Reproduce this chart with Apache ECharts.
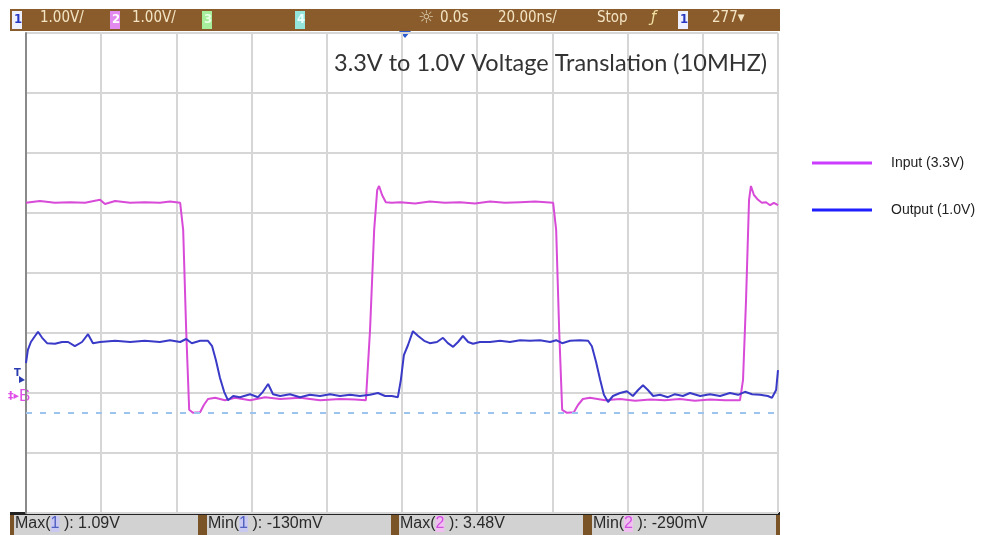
<!DOCTYPE html>
<html>
<head>
<meta charset="utf-8">
<script src="https://cdn.jsdelivr.net/npm/echarts@6/dist/echarts.min.js"></script>
<style>
  html, body { margin: 0; padding: 0; background: #fff; }
  #chart { width: 1005px; height: 535px; }
</style>
</head>
<body>
<div id="chart"></div>
<script>
// scope capture: time in ns (20 ns/div), amplitude in V (1 V/div)
const timeTicks = [-100, -80, -60, -40, -20, 0, 20, 40, 60, 80, 100]
const voltTicks = [-2, -1, 0, 1, 2, 3, 4, 5, 6]
const groundRef = -0.33

// channel 2 - input (3.3V)
const inputT = [-100, -96.3, -92.3, -88.3, -84.3, -80.3, -79, -76.3, -72.3, -68.4, -64.4, -61.7, -59,
  -58.2, -57.4, -56.6, -55.6, -53.7, -52.7, -51.6, -49.7, -47.1, -44.4, -40.4, -36.4, -32.4, -27.1,
  -21.8, -16.5, -12.5, -9.6, -8.5, -7.4, -6.6, -6.1, -5.3, -4.3, -2.7, -0.5, 3.5, 7.4, 11.4, 15.4,
  19.4, 23.4, 27.4, 31.4, 35.4, 40.2, 41.0, 41.8, 42.6, 43.9, 45.7, 46.8, 48.1, 50, 54, 58, 62, 66,
  69.9, 73.9, 77.9, 81.9, 85.9, 89.9, 90.7, 91.5, 92.3, 92.8, 93.6, 94.7, 95.7, 96.8, 97.9, 98.9, 100]
const inputV = [3.17, 3.2, 3.17, 3.18, 3.17, 3.22, 3.15, 3.2, 3.17, 3.18, 3.17, 3.19, 3.17,
  2.72, 1.05, -0.28, -0.33, -0.32, -0.2, -0.1, -0.08, -0.12, -0.08, -0.12, -0.07, -0.1, -0.08,
  -0.12, -0.1, -0.11, -0.12, 1.05, 2.72, 3.38, 3.45, 3.3, 3.18, 3.17, 3.18, 3.16, 3.19, 3.17, 3.18,
  3.16, 3.19, 3.17, 3.18, 3.19, 3.17, 2.72, 1.05, -0.28, -0.33, -0.32, -0.2, -0.1, -0.08, -0.12,
  -0.1, -0.13, -0.11, -0.12, -0.1, -0.13, -0.11, -0.12, -0.12, 0.22, 1.55, 3.22, 3.45, 3.3, 3.22,
  3.17, 3.18, 3.13, 3.17, 3.13]

// channel 1 - output (1.0V)
const outputT = [-100, -99.5, -98.7, -97.6, -96.8, -95.7, -94.4, -92.3, -90.4, -88.8, -87, -85.1,
  -83.5, -82.2, -80.3, -76.3, -72.3, -68.4, -64.4, -61.7, -59, -57.4, -55.9, -53.7, -51.6, -50.5,
  -49.5, -48.4, -47.3, -46.3, -44.9, -43.1, -40.4, -38.3, -37, -35.6, -34.3, -32.4, -29.8, -27.1,
  -24.5, -21.8, -19.1, -16.5, -13.8, -11.2, -8.5, -6.4, -4.5, -2.7, -1.1, -0.3, 0.5, 1.6, 2.9, 4.3,
  5.9, 7.4, 9.3, 10.9, 12.2, 13.6, 14.9, 16.2, 17.6, 18.9, 20.7, 23.4, 26.1, 28.7, 31.4, 34.0, 36.7,
  39.4, 41.0, 42.6, 44.7, 47.3, 49.5, 50.5, 51.6, 52.7, 53.7, 54.8, 56.1, 58, 59.8, 61.4, 62.8,
  64.1, 65.4, 66.8, 68.6, 70.7, 72.6, 74.7, 76.6, 79.3, 81.9, 84.6, 87.2, 89.4, 91.2, 93.1, 95.2,
  97.3, 98.4, 99.5, 100]
const outputV = [0.5, 0.72, 0.85, 0.95, 1.02, 0.92, 0.83, 0.82, 0.85, 0.85, 0.78, 0.85,
  0.98, 0.83, 0.85, 0.87, 0.85, 0.87, 0.85, 0.88, 0.85, 0.9, 0.83, 0.87, 0.87, 0.78,
  0.55, 0.25, 0.02, -0.12, -0.05, -0.07, -0.02, -0.07, 0.02, 0.15, -0.02, -0.05, -0.02, -0.07,
  -0.03, -0.05, -0.02, -0.05, -0.03, -0.05, -0.03, 0, -0.05, -0.05, -0.07, 0.22, 0.63, 0.8, 1.03, 0.95,
  0.87, 0.83, 0.85, 0.92, 0.83, 0.77, 0.85, 0.95, 0.85, 0.82, 0.85, 0.85, 0.87, 0.85, 0.88, 0.87, 0.88,
  0.85, 0.88, 0.83, 0.87, 0.88, 0.87, 0.78, 0.52, 0.22, -0.03, -0.15, -0.05, 0, 0.03, -0.05, 0.05,
  0.13, 0.05, -0.05, -0.03, -0.07, -0.02, -0.05, 0, -0.05, -0.02, -0.05, 0, -0.03, 0.02, -0.02, -0.03,
  -0.05, -0.08, 0.05, 0.38]

// scope status bars
const headerItems = ['1.00V/', '1.00V/', '0.0s', '20.00ns/', 'Stop', '277▾']
const measureNames = ['Max', 'Min', 'Max', 'Min']
const measureChannels = ['1', '1', '2', '2']
const measureValues = ['1.09V', '-130mV', '3.48V', '-290mV']

const zip = (a, b) => a.map((v, i) => [v, b[i]])

const chart = echarts.init(document.getElementById('chart'))

const barText = '#f3e4c4'
const barFont = '15px "DejaVu Sans Condensed"'
const chanBox = (x, label, bg, fg) => ({
  type: 'group', left: x, top: 11,
  children: [
    { type: 'rect', shape: { x: 0, y: 0, width: 10, height: 18 }, style: { fill: bg } },
    { type: 'text', left: 2, top: 2, style: { text: label, fill: fg, font: 'bold 13px "DejaVu Sans Condensed"' } }
  ]
})
const headerText = (x, s) => ({
  type: 'text', left: x, top: 11,
  style: { text: s, fill: barText, font: barFont }
})

const measureBoxes = []
const measureX = [14, 207, 399, 592]
measureX.forEach((x, i) => {
  measureBoxes.push({
    type: 'rect', shape: { x: x, y: 515, width: 184, height: 20 },
    style: { fill: '#d2d2d2' }
  })
  measureBoxes.push({
    type: 'text', left: x + 1, top: 516,
    style: {
      text: measureNames[i] + '({c' + measureChannels[i] + '|' + measureChannels[i] + '} ): ' + measureValues[i],
      fill: '#2a2a2a',
      font: '16px "Liberation Sans"',
      rich: {
        c1: { fill: '#5060c0', backgroundColor: '#c8c8f0', font: '16px "Liberation Sans"' },
        c2: { fill: '#d050e0', backgroundColor: '#f0c0f0', font: '16px "Liberation Sans"' }
      }
    }
  })
})

chart.setOption({
  backgroundColor: '#fff',
  animation: false,
  title: {
    text: '3.3V to 1.0V Voltage Translation (10MHZ)',
    left: 329,
    top: 46,
    textStyle: { fontFamily: 'Lato', fontSize: 23.5, fontWeight: 'normal', color: '#333' }
  },
  legend: {
    orient: 'vertical',
    left: 807,
    top: 151,
    itemWidth: 60,
    itemHeight: 3,
    itemGap: 33,
    icon: 'rect',
    textStyle: { fontFamily: 'Liberation Sans', fontSize: 14, color: '#222', padding: [0, 0, 0, 14] },
    data: [
      { name: 'Input (3.3V)', itemStyle: { color: '#cc3cff' } },
      { name: 'Output (1.0V)', itemStyle: { color: '#1e1eff' } }
    ]
  },
  grid: { left: 26, top: 33, width: 752, height: 480 },
  xAxis: {
    type: 'value',
    min: timeTicks[0],
    max: timeTicks[timeTicks.length - 1],
    interval: 20,
    axisLine: { show: false },
    axisTick: { show: false },
    axisLabel: { show: false },
    splitLine: { lineStyle: { color: '#d6d6d6', width: 2 } }
  },
  yAxis: {
    type: 'value',
    min: voltTicks[0],
    max: voltTicks[voltTicks.length - 1],
    interval: 1,
    axisLine: { show: true, onZero: false, lineStyle: { color: '#8a8a8a', width: 2 } },
    axisTick: { show: false },
    axisLabel: { show: false },
    splitLine: { lineStyle: { color: '#d6d6d6', width: 2 } }
  },
  series: [
    {
      name: 'Input (3.3V)',
      type: 'line',
      data: zip(inputT, inputV),
      showSymbol: false,
      color: '#d84ad8',
      lineStyle: { width: 2, color: '#d84ad8' },
      markLine: {
        silent: true,
        symbol: 'none',
        label: { show: false },
        lineStyle: { color: '#9cc4ee', type: [6, 8], width: 2 },
        data: [{ yAxis: groundRef }]
      }
    },
    {
      name: 'Output (1.0V)',
      type: 'line',
      data: zip(outputT, outputV),
      showSymbol: false,
      color: '#3a3ac8',
      lineStyle: { width: 2, color: '#3a3ac8' }
    }
  ],
  graphic: [
    { type: 'rect', shape: { x: 10, y: 9, width: 770, height: 22 }, style: { fill: '#8a5c2c' } },
    chanBox(12, '1', '#eef0ff', '#2636c0'),
    headerText(40, headerItems[0]),
    chanBox(110, '2', '#e38af0', '#ffffff'),
    headerText(132, headerItems[1]),
    chanBox(202, '3', '#a6ee9c', '#e8ffe4'),
    chanBox(295, '4', '#94e6dc', '#e8fffb'),
    { type: 'text', left: 418, top: 9, style: { text: '☼', fill: '#d8c8a8', font: '18px "DejaVu Sans"' } },
    headerText(440, headerItems[2]),
    headerText(498, headerItems[3]),
    headerText(597, headerItems[4]),
    { type: 'text', left: 651, top: 11, style: { text: 'ƒ', fill: '#f0e0a0', font: 'italic 15px "DejaVu Sans"' } },
    chanBox(678, '1', '#eef0ff', '#2636c0'),
    headerText(712, headerItems[5]),
    { type: 'polygon', shape: { points: [[399, 31], [411, 31], [405, 38]] }, style: { fill: '#2a5ad0' } },
    { type: 'text', left: 14, top: 368, style: { text: 'T', fill: '#2a3ab0', font: 'bold 10px "DejaVu Sans"' } },
    { type: 'polygon', shape: { points: [[19, 376], [25, 380], [19, 383]] }, style: { fill: '#2a3ab0' } },
    {
      type: 'text', left: 8, top: 388,
      style: {
        text: '{s|‡▸}B', fill: '#e050e8', font: '17px "Liberation Sans"',
        rich: { s: { fill: '#e050e8', font: 'bold 11px "DejaVu Sans"' } }
      }
    },
    { type: 'rect', shape: { x: 10, y: 512, width: 770, height: 23 }, style: { fill: '#7a5426' } },
    { type: 'rect', shape: { x: 10, y: 512, width: 770, height: 3 }, style: { fill: '#222' } }
  ].concat(measureBoxes)
})
</script>
</body>
</html>
